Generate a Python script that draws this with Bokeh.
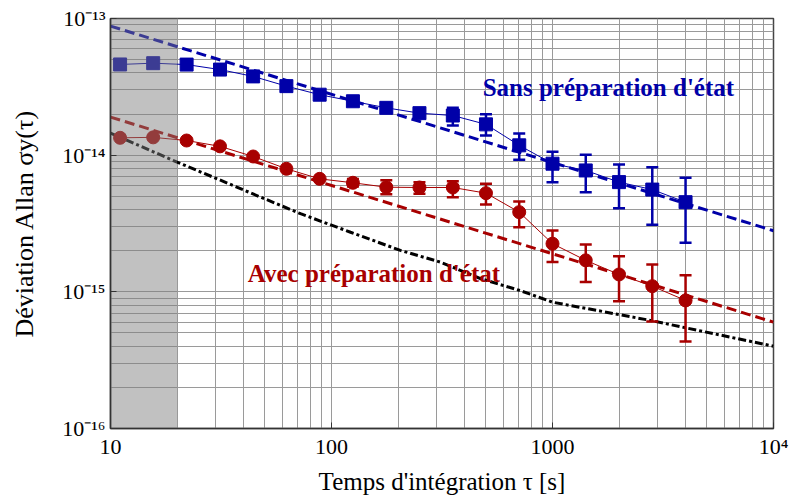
from bokeh.plotting import figure
from bokeh.models import Range1d, FixedTicker, CustomJSTickFormatter, Label
from bokeh.embed import file_html
from bokeh.resources import INLINE

# ---------------- data ----------------
tau = [11.05, 15.6, 22.1, 31.3, 44.2, 62.5, 88.4, 125, 177, 250, 354, 500, 707,
       1000, 1414, 2000, 2828, 4000]

blue_sigma = [4.61e-14, 4.71e-14, 4.60e-14, 4.23e-14, 3.77e-14, 3.20e-14, 2.77e-14,
              2.48e-14, 2.22e-14, 2.03e-14, 1.95e-14, 1.68e-14, 1.18e-14, 8.66e-15,
              7.73e-15, 6.35e-15, 5.60e-15, 4.53e-15]
blue_err_tau = [354, 500, 707, 1000, 1414, 2000, 2828, 4000]
blue_err_lo = [1.65e-14, 1.39e-14, 9.25e-15, 6.34e-15, 5.36e-15, 4.09e-15, 3.10e-15, 2.29e-15]
blue_err_hi = [2.22e-14, 1.99e-14, 1.44e-14, 1.06e-14, 1.007e-14, 8.55e-15, 8.17e-15, 6.84e-15]

red_sigma = [1.34e-14, 1.35e-14, 1.28e-14, 1.16e-14, 9.78e-15, 7.95e-15, 6.71e-15,
             6.28e-15, 5.83e-15, 5.80e-15, 5.80e-15, 5.27e-15, 3.83e-15, 2.25e-15,
             1.70e-15, 1.34e-15, 1.10e-15, 8.65e-16]
red_err_tau = [125, 177, 250, 354, 500, 707, 1000, 1414, 2000, 2828, 4000]
red_err_lo = [5.90e-15, 5.18e-15, 5.22e-15, 4.93e-15, 4.35e-15, 2.97e-15, 1.65e-15,
              1.18e-15, 8.55e-16, 6.07e-16, 4.33e-16]
red_err_hi = [6.70e-15, 6.56e-15, 6.34e-15, 6.45e-15, 6.18e-15, 4.58e-15, 2.81e-15,
              2.22e-15, 1.82e-15, 1.585e-15, 1.32e-15]

fit_tau = [10, 10000]
blue_fit = [8.8e-14, 2.8e-15]
red_fit = [1.9e-14, 6.0e-16]

floor_tau = [10, 20, 30.4, 47.8, 72.4, 122, 205, 311, 472, 716, 1000, 2773, 10000]
floor_sigma = [1.45e-14, 8.9e-15, 6.71e-15, 4.93e-15, 3.73e-15, 2.73e-15, 2.01e-15,
               1.65e-15, 1.25e-15, 1.02e-15, 8.4e-16, 6.18e-16, 4.0e-16]

shade_tau = [10, 20]

x_ticks = [10, 100, 1000, 10000]
x_tick_labels = ["10", "100", "1000", "10\u2074"]
y_ticks = [1e-16, 1e-15, 1e-14, 1e-13]
y_tick_labels = ["10\u207b\u00b9\u2076", "10\u207b\u00b9\u2075", "10\u207b\u00b9\u2074", "10\u207b\u00b9\u00b3"]

x_title = "Temps d'intégration τ [s]"
y_title = "Déviation Allan σy(τ)"
label_sans = "Sans préparation d'état"
label_avec = "Avec préparation d'état"

# ---------------- style ----------------
BLUE = "#0000a8"
RED = "#a80000"
GRID = "#9a9a9a"
FONT = "Liberation Serif"

p = figure(width=790, height=498, x_axis_type="log", y_axis_type="log",
           x_range=Range1d(10, 1e4), y_range=Range1d(1e-16, 1e-13),
           output_backend="svg", toolbar_location=None,
           min_border_left=110, min_border_right=17, min_border_top=18,
           min_border_bottom=70)
p.background_fill_color = "white"
p.border_fill_color = "white"
p.outline_line_color = "#444444"
p.outline_line_width = 1.5

x_minor = [m * 10.0 ** e for e in range(1, 4) for m in range(2, 10)]
y_minor = [m * 10.0 ** e for e in (-16, -15, -14) for m in range(2, 10)]
xt = FixedTicker(ticks=x_ticks, minor_ticks=x_minor)
yt = FixedTicker(ticks=y_ticks, minor_ticks=y_minor)
p.xaxis.ticker = xt
p.yaxis.ticker = yt
p.xgrid.ticker = xt
p.ygrid.ticker = yt

fmt_code = """
let best = 0, bd = Infinity;
for (let i = 0; i < vals.length; i++) {
  const d = Math.abs(Math.log10(vals[i]) - Math.log10(tick));
  if (d < bd) { bd = d; best = i; }
}
return bd < 1e-6 ? labs[best] : "";
"""
p.xaxis.formatter = CustomJSTickFormatter(args=dict(vals=x_ticks, labs=x_tick_labels), code=fmt_code)
p.yaxis.formatter = CustomJSTickFormatter(args=dict(vals=y_ticks, labs=y_tick_labels), code=fmt_code)

for g in (p.xgrid, p.ygrid):
    g.grid_line_color = GRID
    g.grid_line_width = 1
    g.minor_grid_line_color = GRID
    g.minor_grid_line_width = 1

p.axis.major_label_text_font = FONT
p.axis.major_label_text_font_size = "22px"
p.axis.major_label_text_color = "black"
p.axis.axis_line_color = "#333333"
p.axis.axis_line_width = 1.5
p.axis.major_tick_line_color = "#333333"
p.axis.major_tick_in = 6
p.axis.major_tick_out = 0
p.axis.minor_tick_in = 0
p.axis.minor_tick_out = 0
p.xaxis.major_label_standoff = 5
p.yaxis.major_label_standoff = 5

p.xaxis.axis_label = x_title
p.yaxis.axis_label = y_title
p.axis.axis_label_text_font = FONT
p.axis.axis_label_text_font_style = "normal"
p.axis.axis_label_text_color = "black"
p.xaxis.axis_label_text_font_size = "25px"
p.yaxis.axis_label_text_font_size = "26px"
p.xaxis.axis_label_standoff = 6
p.yaxis.axis_label_standoff = 20

# ---------------- glyphs ----------------
p.line(floor_tau, floor_sigma, line_color="black", line_width=3, line_dash="8 3 3 3")
p.line(fit_tau, blue_fit, line_color=BLUE, line_width=3, line_dash="10 5")
p.line(fit_tau, red_fit, line_color=RED, line_width=3, line_dash="10 5")

p.line(tau, blue_sigma, line_color=BLUE, line_width=1)
p.segment(x0=blue_err_tau, y0=blue_err_lo, x1=blue_err_tau, y1=blue_err_hi,
          line_color=BLUE, line_width=2.5)
p.scatter(blue_err_tau, blue_err_lo, marker="dash", size=12, line_color=BLUE, line_width=2.5)
p.scatter(blue_err_tau, blue_err_hi, marker="dash", size=12, line_color=BLUE, line_width=2.5)
p.scatter(tau, blue_sigma, marker="square", size=13, fill_color=BLUE, line_color=BLUE)

p.line(tau, red_sigma, line_color=RED, line_width=1)
p.segment(x0=red_err_tau, y0=red_err_lo, x1=red_err_tau, y1=red_err_hi,
          line_color=RED, line_width=2.5)
p.scatter(red_err_tau, red_err_lo, marker="dash", size=12, line_color=RED, line_width=2.5)
p.scatter(red_err_tau, red_err_hi, marker="dash", size=12, line_color=RED, line_width=2.5)
p.scatter(tau, red_sigma, marker="circle", size=13, fill_color=RED, line_color=RED)

# dead-time shading (drawn over the data, semi-transparent)
p.quad(left=[shade_tau[0]], right=[shade_tau[1]], bottom=[1e-16], top=[1e-13],
       fill_color="#7d7d7d", fill_alpha=0.48, line_color=None)

# ---------------- annotations ----------------
p.add_layout(Label(x=1790, y=3.13e-14, text=label_sans, text_align="center",
                   text_baseline="alphabetic", text_font=FONT, text_font_size="25px",
                   text_font_style="bold", text_color=BLUE))
p.add_layout(Label(x=155.6, y=1.365e-15, text=label_avec, text_align="center",
                   text_baseline="alphabetic", text_font=FONT, text_font_size="25px",
                   text_font_style="bold", text_color=RED))

open("out.html", "w").write(file_html(p, INLINE))
